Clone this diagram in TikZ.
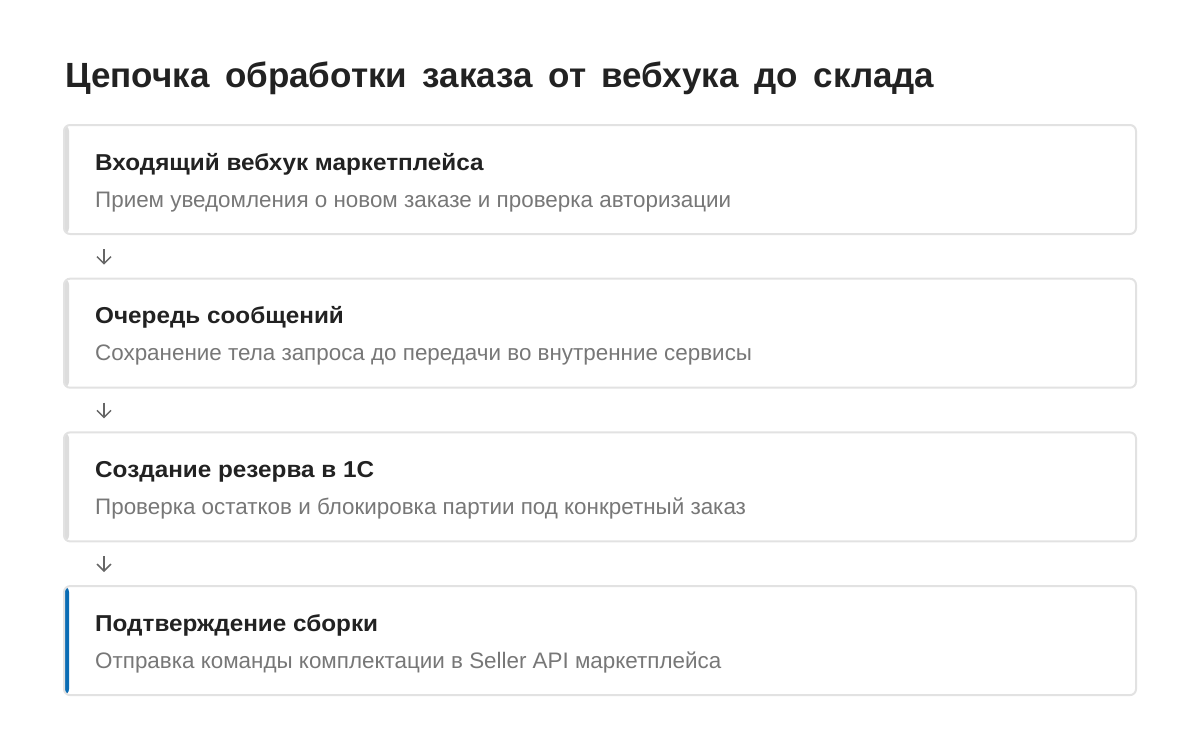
\documentclass[tikz,border=0pt]{standalone}
\usepackage{fontspec}
\setmainfont{Liberation Sans}
\newfontfamily\headfont[WordSpace=1.6]{Liberation Sans}
\newfontfamily\cardfont[FakeStretch=1.056]{Liberation Sans}
\usetikzlibrary{positioning,arrows.meta}

\definecolor{ink}{HTML}{222222}
\definecolor{muted}{HTML}{777777}
\definecolor{edge}{HTML}{E2E2E2}
\definecolor{strip}{HTML}{DDDDDD}
\definecolor{accent}{HTML}{0A6CB4}
\definecolor{arrowgray}{HTML}{666666}

\tikzset{
  card/.style={draw=edge,line width=2pt,rounded corners=6pt,fill=white,
    minimum width=1072pt,minimum height=109pt,inner sep=0pt,
    path picture={\fill[#1] (path picture bounding box.north west)
      rectangle ([xshift=5pt]path picture bounding box.south west);}},
  card/.default=strip,
  steptitle/.style={anchor=base west,inner sep=0pt,text=ink,
    font=\cardfont\fontsize{23}{28}\selectfont\bfseries},
  stepnote/.style={anchor=base west,inner sep=0pt,text=muted,
    font=\fontsize{22.4}{27}\selectfont},
  flow/.style={draw=arrowgray,line width=1.5pt,-{Straight Barb[length=7pt,width=14pt]}}
}

\begin{document}
\begin{tikzpicture}[x=1pt,y=-1pt]
\useasboundingbox (0,0) rectangle (1200,752);

% Heading
\node[anchor=base west,inner sep=0pt,text=ink,
  font=\headfont\fontsize{35}{40}\selectfont\bfseries] (heading) at (65,88)
  {Цепочка обработки заказа от вебхука до склада};

% Steps
\node[card] (webhook) at (600,179.5) {};
\node[card, below=42.7pt of webhook] (queue) {};
\node[card, below=42.7pt of queue] (reserve) {};
\node[card=accent, below=42.7pt of reserve] (confirm) {};

% Step texts
\node[steptitle] (webhook-t) at ([shift={(32pt,-46pt)}]webhook.north west) {Входящий вебхук маркетплейса};
\node[stepnote] (webhook-n) at ([shift={(32pt,-83pt)}]webhook.north west) {Прием уведомления о новом заказе и проверка авторизации};

\node[steptitle] (queue-t) at ([shift={(32pt,-46pt)}]queue.north west) {Очередь сообщений};
\node[stepnote] (queue-n) at ([shift={(32pt,-83pt)}]queue.north west) {Сохранение тела запроса до передачи во внутренние сервисы};

\node[steptitle] (reserve-t) at ([shift={(32pt,-46pt)}]reserve.north west) {Создание резерва в 1С};
\node[stepnote] (reserve-n) at ([shift={(32pt,-83pt)}]reserve.north west) {Проверка остатков и блокировка партии под конкретный заказ};

\node[steptitle] (confirm-t) at ([shift={(32pt,-46pt)}]confirm.north west) {Подтверждение сборки};
\node[stepnote] (confirm-n) at ([shift={(32pt,-83pt)}]confirm.north west) {Отправка команды комплектации в Seller API маркетплейса};

% Arrows between steps
\draw[flow] ([shift={(41pt,-14pt)}]webhook.south west) -- ([shift={(41pt,13pt)}]queue.north west);
\draw[flow] ([shift={(41pt,-14pt)}]queue.south west) -- ([shift={(41pt,13pt)}]reserve.north west);
\draw[flow] ([shift={(41pt,-14pt)}]reserve.south west) -- ([shift={(41pt,13pt)}]confirm.north west);

\end{tikzpicture}
\end{document}
